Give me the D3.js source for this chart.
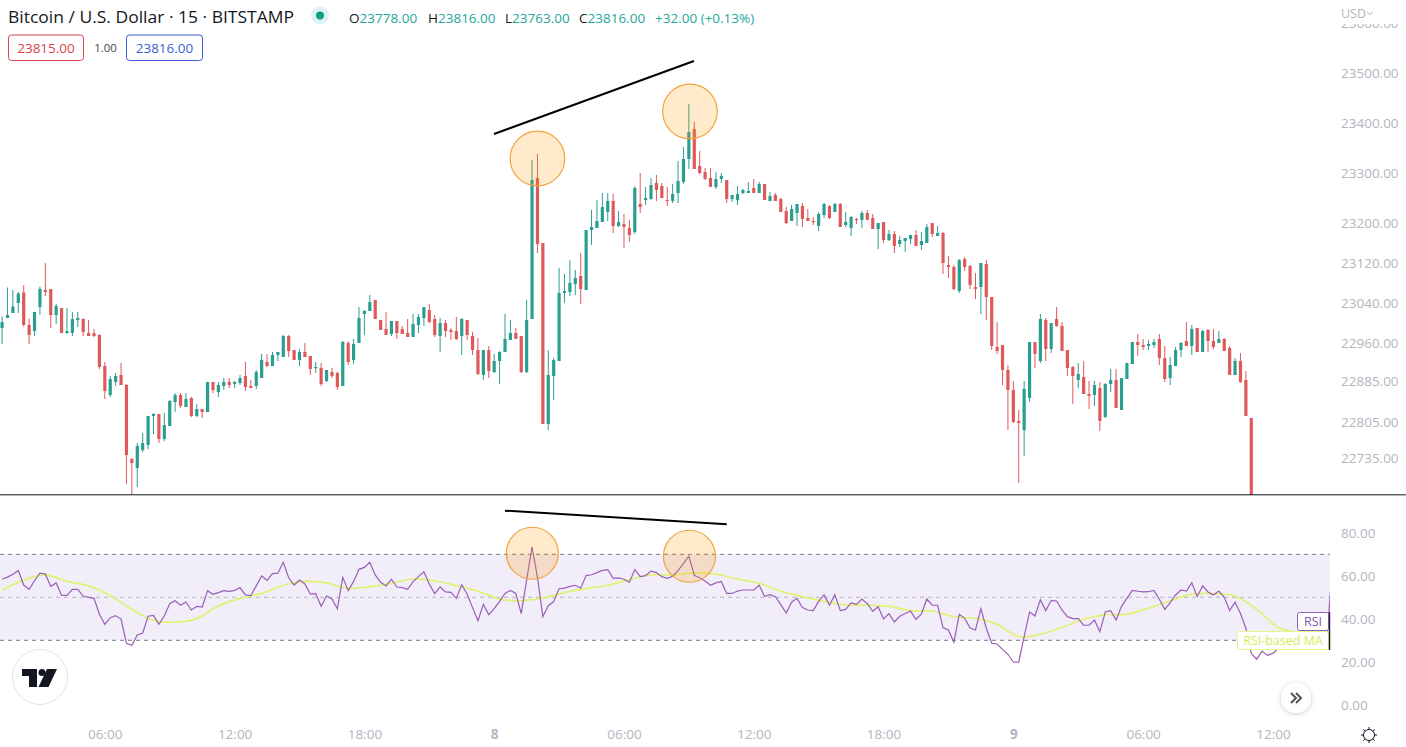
<!DOCTYPE html>
<html><head><meta charset="utf-8">
<style>html,body{margin:0;padding:0;background:#fff;overflow:hidden}svg{display:block}
text{font-family:"Open Sans",sans-serif}</style>
<script src="https://cdn.jsdelivr.net/npm/d3@7/dist/d3.min.js"></script>
</head><body><div id="c"></div>
<script>
const opens=[22990,23010,23020,23040,23061,22996,22984,23032,23066,23068,
23016,23030,22980,22980,23006,23008,22980,22980,22976,22914,
22856,22882,22896,22876,22728,22710,22746,22756,22814,22818,
22768,22794,22842,22856,22832,22850,22814,22828,22822,22882,
22862,22874,22882,22878,22880,22894,22874,22874,22890,22922,
22914,22936,22932,22974,22946,22926,22942,22934,22910,22910,
22884,22902,22900,22874,22960,22926,22960,23018,23024,23046,
23006,22988,22978,23004,22988,22980,22972,22996,23010,23026,
23008,22974,23000,22986,22984,22974,23006,22974,22946,22896,
22946,22902,22924,22942,22966,22980,22974,22902,23008,23290,
23160,22798,22894,22924,23060,23062,23078,23094,23066,23186,
23190,23202,23222,23244,23194,23198,23190,23182,23238,23246,
23248,23280,23274,23246,23244,23260,23282,23328,23388,23314,
23302,23290,23272,23288,23286,23248,23246,23260,23260,23270,
23260,23278,23244,23256,23248,23224,23204,23220,23234,23210,
23204,23194,23216,23234,23222,23238,23196,23190,23208,23206,
23220,23210,23188,23202,23166,23178,23158,23164,23168,23176,
23156,23160,23200,23174,23180,23116,23112,23064,23128,23114,
23072,23072,23118,23052,22952,22956,22906,22866,22804,22786,
22850,22962,22924,23006,22948,23008,22994,22946,22912,22886,
22892,22858,22856,22870,22812,22878,22886,22826,22888,22918,
22962,22956,22954,22956,22968,22930,22890,22914,22946,22964,
22954,22990,22942,22986,22964,22960,22968,22950,22896,22924,
22886,22810];
const closes=[23002,23016,23033,23059,22996,22976,23022,23068,23062,23016,
23034,22980,22984,23008,23010,22982,22974,22974,22912,22864,
22888,22894,22876,22736,22720,22754,22760,22814,22818,22768,
22796,22844,22856,22834,22848,22814,22828,22822,22882,22866,
22876,22882,22876,22882,22890,22872,22870,22902,22926,22914,
22936,22942,22974,22944,22926,22942,22932,22908,22912,22878,
22906,22894,22872,22962,22922,22958,23010,23024,23042,23008,
22986,22976,23004,22980,22978,22972,22998,23012,23032,23002,
22976,23000,22984,22982,22968,23008,22976,22946,22898,22946,
22904,22924,22942,22968,22980,22968,22902,23006,23286,23158,
22798,22896,22926,23060,23064,23080,23090,23068,23186,23192,
23204,23232,23244,23194,23202,23192,23176,23270,23232,23250,
23276,23266,23250,23244,23258,23284,23328,23382,23308,23300,
23288,23272,23288,23294,23248,23256,23258,23266,23264,23260,
23278,23246,23254,23244,23222,23200,23228,23238,23208,23204,
23202,23218,23238,23210,23238,23192,23202,23212,23207,23220,
23206,23188,23200,23166,23178,23154,23166,23170,23176,23154,
23164,23192,23178,23180,23120,23112,23068,23126,23112,23076,
23068,23120,23052,22954,22944,22906,22866,22802,22800,22868,
22962,22938,23008,22948,23000,22994,22944,22910,22894,22898,
22858,22854,22876,22804,22878,22886,22830,22890,22920,22962,
22956,22952,22958,22962,22930,22888,22916,22946,22960,22954,
22988,22942,22984,22964,22952,22968,22944,22896,22924,22882,
22814,22620];
const highs=[23013,23071,23066,23062,23076,23009,23022,23073,23120,23068,
23038,23030,23030,23022,23022,23010,23006,22988,22978,22922,
22894,22900,22920,22878,22730,22760,22780,22814,22820,22818,
22820,22846,22860,22860,22860,22852,22838,22828,22882,22882,
22882,22890,22890,22884,22896,22922,22886,22906,22938,22938,
22942,22942,22976,22976,22946,22948,22960,22934,22922,22920,
22906,22910,22902,22964,22964,22968,23032,23026,23056,23046,
23006,23022,23004,23004,22994,23008,23018,23018,23032,23038,
23016,23010,23006,22990,23012,23010,23006,22982,22970,22946,
22954,22938,22944,23018,23006,22990,22974,23046,23326,23338,
23160,22946,22930,23110,23098,23126,23106,23140,23186,23226,
23246,23260,23260,23258,23224,23218,23206,23274,23300,23272,
23290,23296,23280,23272,23278,23324,23352,23438,23402,23344,
23310,23310,23302,23300,23286,23256,23274,23268,23282,23288,
23282,23278,23262,23260,23250,23232,23236,23238,23240,23228,
23212,23222,23240,23236,23240,23240,23222,23214,23210,23224,
23226,23218,23200,23202,23186,23184,23174,23170,23176,23186,
23182,23198,23200,23194,23182,23134,23116,23128,23132,23116,
23100,23120,23126,23052,23002,22956,22916,22884,22826,22884,
22962,22962,23018,23010,23000,23032,23002,22946,22914,22920,
22924,22884,22884,22882,22880,22908,22908,22890,22920,22962,
22978,22968,22966,22968,22978,22954,22932,22952,22962,23002,
22996,22990,22986,22988,22988,22984,22970,22954,22930,22940,
22904,22810];
const lows=[22958,23010,23020,23020,22993,22958,22974,23016,23054,22990,
22998,22980,22978,22974,22992,22974,22974,22972,22908,22848,
22852,22874,22876,22678,22640,22672,22742,22748,22778,22760,
22764,22794,22822,22830,22832,22812,22812,22810,22822,22860,
22852,22866,22870,22870,22876,22864,22870,22868,22890,22912,
22914,22924,22932,22932,22926,22914,22932,22896,22900,22874,
22882,22890,22866,22874,22916,22918,22960,22976,23024,23008,
22986,22976,22974,22968,22978,22972,22972,22980,22994,23000,
22972,22942,22972,22966,22966,22936,22966,22936,22896,22886,
22890,22900,22878,22942,22966,22968,22900,22900,23008,23140,
22798,22786,22846,22924,23040,23054,23056,23038,23066,23156,
23190,23202,23204,23180,23192,23150,23162,23178,23220,23236,
23246,23244,23250,23234,23240,23240,23278,23308,23308,23298,
23286,23272,23268,23280,23240,23242,23236,23258,23260,23260,
23260,23246,23244,23244,23222,23198,23204,23194,23192,23204,
23196,23184,23210,23208,23222,23192,23192,23174,23198,23190,
23206,23188,23148,23160,23164,23140,23152,23142,23158,23154,
23146,23160,23172,23174,23098,23090,23066,23060,23104,23068,
23048,23018,23006,22946,22938,22876,22786,22800,22680,22734,
22842,22910,22920,22924,22940,22992,22944,22894,22838,22870,
22858,22828,22834,22784,22810,22862,22830,22826,22888,22918,
22934,22946,22946,22950,22916,22882,22876,22914,22932,22954,
22936,22942,22942,22942,22948,22960,22944,22896,22896,22880,
22814,22600];
const rsiValues=[58.4,59.4,60.7,62.5,55.7,53.7,57.7,61.2,60.8,55.1,
56.7,50.9,50.9,53.7,53.7,50.6,50.0,49.5,42.1,37.4,
40.5,41.5,39.9,28.6,27.7,32.5,33.4,41.2,41.6,37.4,
41.3,47.0,48.4,46.3,47.8,44.1,45.8,45.5,53.1,51.4,
52.2,53.1,52.8,53.2,54.5,51.1,50.8,55.3,59.9,57.9,
61.0,61.2,66.3,59.1,55.7,58.0,56.2,51.5,51.7,45.8,
50.6,49.2,44.7,59.3,53.1,57.4,63.0,63.9,66.3,60.4,
57.0,55.3,58.4,54.8,54.5,53.7,57.3,59.6,61.9,56.2,
51.7,54.8,52.5,52.3,49.5,55.9,51.4,45.2,39.1,46.7,
41.9,44.7,48.1,51.8,53.2,51.8,42.4,58.0,73.5,59.3,
41.0,46.1,48.0,54.0,54.3,55.1,55.6,54.2,60.1,60.5,
61.5,62.5,62.9,58.8,59.0,58.4,57.0,62.9,59.6,60.1,
62.2,61.5,59.6,58.8,59.8,62.4,65.8,69.1,60.2,59.1,
57.6,55.6,56.7,57.4,51.8,51.8,52.9,53.4,53.4,53.4,
55.6,50.5,51.2,50.3,46.6,42.7,47.7,49.5,45.2,44.1,
43.8,48.1,51.1,46.3,51.2,43.8,44.4,47.4,46.7,49.2,
47.0,43.5,45.6,39.9,42.4,38.5,41.2,42.5,43.6,39.8,
42.2,49.2,46.4,46.3,35.9,34.8,29.1,42.1,40.2,35.7,
34.8,44.7,35.6,28.6,28.3,25.8,23.5,19.9,19.8,31.7,
43.2,41.3,48.8,43.8,48.6,48.3,44.1,41.0,40.1,40.1,
37.0,37.0,39.4,34.0,43.2,43.8,39.4,45.8,49.5,53.2,
52.8,52.5,52.6,53.2,49.1,44.4,47.5,51.1,53.4,52.9,
56.7,50.3,55.3,52.5,51.1,52.9,50.0,43.9,47.7,42.5,
35.6,23.9,21.2,25.0,23.0,23.9,26.3,28.6,30.9,32.5,
33.2,34.0,34.8,34.0,28.6,31.7,64.3];
const rsiMaEvery4=[53.4,58.0,60.4,57.4,55.3,50.8,44.4,39.3,38.4,40.1,46.0,49.5,51.8,55.6,57.4,56.7,
54.2,55.0,56.5,58.5,57.7,55.4,52.9,49.2,48.4,49.7,52.2,54.0,55.6,58.2,60.4,60.4,
61.3,60.8,58.5,56.5,52.9,50.3,48.1,46.4,46.3,45.8,43.8,43.6,41.0,40.2,37.4,31.7,
32.9,36.0,39.8,41.9,42.1,44.9,48.3,51.4,51.7,50.6,44.4,36.0,33.6,32.5];
const priceTicks=[23600,23500,23400,23300,23200,23120,23040,22960,22883,22802,22730];
const priceTickLabels=["23600.00","23500.00","23400.00","23300.00","23200.00","23120.00","23040.00","22960.00","22885.00","22805.00","22735.00"];
const rsiTicks=[80,60,40,20,0];
const rsiTickLabels=["80.00","60.00","40.00","20.00","0.00"];
const rsiBands=[70,50,30];
const timeTicks=[19,43,67,91,115,139,163,187,211,235];
const timeTickLabels=["06:00","12:00","18:00","8","06:00","12:00","18:00","9","06:00","12:00"];
const priceLines=[[[90.96,23378],[127.94,23524]]];
const priceCircles=[[99.0,23329],[127.2,23423]];
const rsiLines=[[[93.0,90.3],[134.0,84.0]]];
const rsiCircles=[[98.05,70.5],[127.1,69.1]];

const W=1406,H=747;
const GREEN="#2b9e92",RED="#e0595a";
const svg=d3.select("#c").append("svg").attr("width",W).attr("height",H).attr("viewBox",`0 0 ${W} ${H}`);
const x=d3.scaleLinear().domain([0,246]).range([2.08,1332.4]);
const y=d3.scaleLinear().domain([23500,22656]).range([73,495]);
const r=d3.scaleLinear().domain([70,30]).range([554.3,640.3]);
const defs=svg.append("defs");
defs.append("clipPath").attr("id","pc").append("rect").attr("x",0).attr("y",0).attr("width",1330).attr("height",495);
defs.append("clipPath").attr("id","rc").append("rect").attr("x",0).attr("y",496).attr("width",1330).attr("height",220);
defs.append("clipPath").attr("id","ac").append("rect").attr("x",1330).attr("y",24).attr("width",76).attr("height",471);
const sh=defs.append("filter").attr("id","sh").attr("x","-40%").attr("y","-40%").attr("width","180%").attr("height","180%");
sh.append("feDropShadow").attr("dx",0).attr("dy",1).attr("stdDeviation",2.5).attr("flood-color","#000").attr("flood-opacity",.22);

// candles
const pane=svg.append("g").attr("clip-path","url(#pc)");
const bars=opens.map((o,i)=>({i,o,c:closes[i],h:highs[i],l:lows[i]}));
const col=d=>d.c>=d.o?GREEN:RED;
pane.selectAll("line.w").data(bars).join("line").attr("class","w")
 .attr("x1",d=>x(d.i)).attr("x2",d=>x(d.i)).attr("y1",d=>y(d.h)).attr("y2",d=>y(d.l))
 .attr("stroke",col).attr("stroke-width",1);
pane.selectAll("rect.b").data(bars).join("rect").attr("class","b")
 .attr("x",d=>x(d.i)-1.6).attr("width",3.2)
 .attr("y",d=>Math.min(y(d.o),y(d.c)))
 .attr("height",d=>Math.max(1.2,Math.abs(y(d.o)-y(d.c))))
 .attr("fill",col);

const CF="rgba(255,152,0,0.2)",CS="#f2a33a";
pane.selectAll("circle").data(priceCircles).join("circle")
 .attr("cx",d=>x(d[0])).attr("cy",d=>y(d[1])).attr("r",27.3)
 .attr("fill",CF).attr("stroke",CS).attr("stroke-width",1.2);
const seg=(g,data,sy)=>g.selectAll("line.t").data(data).join("line").attr("class","t")
 .attr("x1",d=>x(d[0][0])).attr("y1",d=>sy(d[0][1])).attr("x2",d=>x(d[1][0])).attr("y2",d=>sy(d[1][1]))
 .attr("stroke","#000").attr("stroke-width",2);
seg(svg.append("g"),priceLines,y);

// separator
svg.append("line").attr("x1",0).attr("x2",W).attr("y1",494.8).attr("y2",494.8).attr("stroke","#131722").attr("stroke-width",1);

// RSI pane
const rp=svg.append("g");
rp.append("rect").attr("x",0).attr("width",1330).attr("y",r(70)).attr("height",r(30)-r(70)).attr("fill","#f1edf9");
rp.selectAll("line.bd").data(rsiBands).join("line").attr("class","bd")
 .attr("x1",0).attr("x2",1330).attr("y1",d=>r(d)).attr("y2",d=>r(d))
 .attr("stroke",d=>d===50?"#b7b5c0":"#787b86").attr("stroke-width",1).attr("stroke-dasharray","4 4");
const rg=rp.append("g").attr("clip-path","url(#rc)");
rg.append("path").attr("fill","none").attr("stroke","#e0f272").attr("stroke-width",1.7)
 .attr("d",d3.line().x((d,i)=>x(i*4)).y(d=>r(d)).curve(d3.curveCatmullRom)(rsiMaEvery4));
rg.append("path").attr("fill","none").attr("stroke","#9a5fb8").attr("stroke-width",1.2)
 .attr("d",d3.line().x((d,i)=>x(i)).y(d=>r(d))(rsiValues));
rp.selectAll("circle").data(rsiCircles).join("circle")
 .attr("cx",d=>x(d[0])).attr("cy",d=>r(d[1])).attr("r",26)
 .attr("fill",CF).attr("stroke",CS).attr("stroke-width",1.2);
seg(svg.append("g"),rsiLines,r);

// RSI end labels
const lb=svg.append("g");
lb.append("rect").attr("x",1297.5).attr("y",612.5).attr("width",31).attr("height",18).attr("rx",2).attr("fill","#fff").attr("stroke","#8a63b5");
lb.append("text").attr("x",1313).attr("y",626).attr("text-anchor","middle").attr("font-size",12.5).attr("fill","#7e57a8").text("RSI");
lb.append("rect").attr("x",1237.5).attr("y",631.5).attr("width",91).attr("height",18).attr("rx",2).attr("fill","#fff").attr("stroke","#e6f58a");
lb.append("text").attr("x",1283).attr("y",645).attr("text-anchor","middle").attr("font-size",12.5).attr("fill","#d5ec55").text("RSI-based MA");
lb.append("line").attr("x1",1329.5).attr("x2",1329.5).attr("y1",612).attr("y2",631).attr("stroke","#2d1b47").attr("stroke-width",1.4);
lb.append("line").attr("x1",1329.5).attr("x2",1329.5).attr("y1",631).attr("y2",650).attr("stroke","#111").attr("stroke-width",1.4);

// axes
const AXC="#b2b5be";
const styleAx=g=>{g.select(".domain").remove();g.selectAll(".tick line").remove();
 g.selectAll("text").attr("fill",AXC).attr("font-size",13.5).attr("font-family",'"Open Sans",sans-serif');};
svg.append("g").attr("clip-path","url(#ac)").append("g").attr("transform","translate(1341,0)")
 .call(d3.axisRight(y).tickValues(priceTicks).tickFormat((d,i)=>priceTickLabels[i]).tickSize(0).tickPadding(0)).call(styleAx);
svg.append("g").attr("transform","translate(1341,0)")
 .call(d3.axisRight(r).tickValues(rsiTicks).tickFormat((d,i)=>rsiTickLabels[i]).tickSize(0).tickPadding(0)).call(styleAx);
const xa=svg.append("g").attr("transform","translate(0,729)")
 .call(d3.axisBottom(x).tickValues(timeTicks).tickFormat((d,i)=>timeTickLabels[i]).tickSize(0).tickPadding(0)).call(styleAx);
xa.selectAll("text").attr("font-weight",(d,i)=>timeTickLabels[i].length<3?700:400);

// header
const hd=svg.append("g");
hd.append("text").attr("x",8).attr("y",23).attr("font-size",16.5).attr("textLength",286).attr("lengthAdjust","spacingAndGlyphs").attr("fill","#131722").text("Bitcoin / U.S. Dollar · 15 · BITSTAMP");
hd.append("circle").attr("cx",320).attr("cy",15.5).attr("r",9).attr("fill","#e0f2f0");
hd.append("circle").attr("cx",320).attr("cy",15.5).attr("r",4).attr("fill","#0f9d86");
const ohlc=[["O","23778.00",349],["H","23816.00",428],["L","23763.00",505],["C","23816.00",579]];
ohlc.forEach(a=>{const t=hd.append("text").attr("x",a[2]).attr("y",23).attr("font-size",13.5);
 t.append("tspan").attr("fill","#131722").text(a[0]);t.append("tspan").attr("fill","#26a69a").text(a[1]);});
hd.append("text").attr("x",655).attr("y",23).attr("font-size",13.5).attr("fill","#26a69a").text("+32.00 (+0.13%)");
hd.append("rect").attr("x",8.5).attr("y",35).attr("width",75).attr("height",25.5).attr("rx",3).attr("fill","#fff").attr("stroke","#d9434e");
hd.append("text").attr("x",46).attr("y",53).attr("text-anchor","middle").attr("font-size",13.5).attr("fill","#d9434e").text("23815.00");
hd.append("text").attr("x",105.5).attr("y",52).attr("text-anchor","middle").attr("font-size",11.5).attr("fill","#434651").text("1.00");
hd.append("rect").attr("x",126.5).attr("y",35).attr("width",76).attr("height",25.5).attr("rx",3).attr("fill","#fff").attr("stroke","#3a5fd0");
hd.append("text").attr("x",164.5).attr("y",53).attr("text-anchor","middle").attr("font-size",13.5).attr("fill","#3a5fd0").text("23816.00");
hd.append("text").attr("x",1341).attr("y",17.5).attr("font-size",12.5).attr("fill",AXC).text("USD");
hd.append("path").attr("d","M1367 12l3 2.5 3-2.5").attr("fill","none").attr("stroke",AXC).attr("stroke-width",1);

// logo badge
const lg=svg.append("g");
lg.append("circle").attr("cx",40).attr("cy",677).attr("r",27.5).attr("fill","#fff").attr("stroke","#e0e3eb").attr("stroke-width",1);
lg.append("path").attr("fill","#131722").attr("d","M22 669H37V687H29V676H22Z");
lg.append("circle").attr("cx",42).attr("cy",672.5).attr("r",3.5).attr("fill","#131722");
lg.append("path").attr("fill","#131722").attr("d","M47 669H57L48.5 687H38.5Z");

// scroll button
const bt=svg.append("g");
bt.append("circle").attr("cx",1296).attr("cy",698).attr("r",15).attr("fill","#fff").attr("filter","url(#sh)");
bt.append("path").attr("d","M1291 693l5 5-5 5M1296 693l5 5-5 5").attr("fill","none").attr("stroke","#50535e").attr("stroke-width",2);

// settings sun
const sun=svg.append("g").attr("transform","translate(1369,735)");
sun.append("circle").attr("r",5.5).attr("fill","none").attr("stroke","#131722").attr("stroke-width",1);
sun.selectAll("line").data(d3.range(8)).join("line")
 .attr("x1",d=>5.5*Math.cos(d*Math.PI/4)).attr("y1",d=>5.5*Math.sin(d*Math.PI/4))
 .attr("x2",d=>8*Math.cos(d*Math.PI/4)).attr("y2",d=>8*Math.sin(d*Math.PI/4))
 .attr("stroke","#131722").attr("stroke-width",1);
</script></body></html>
